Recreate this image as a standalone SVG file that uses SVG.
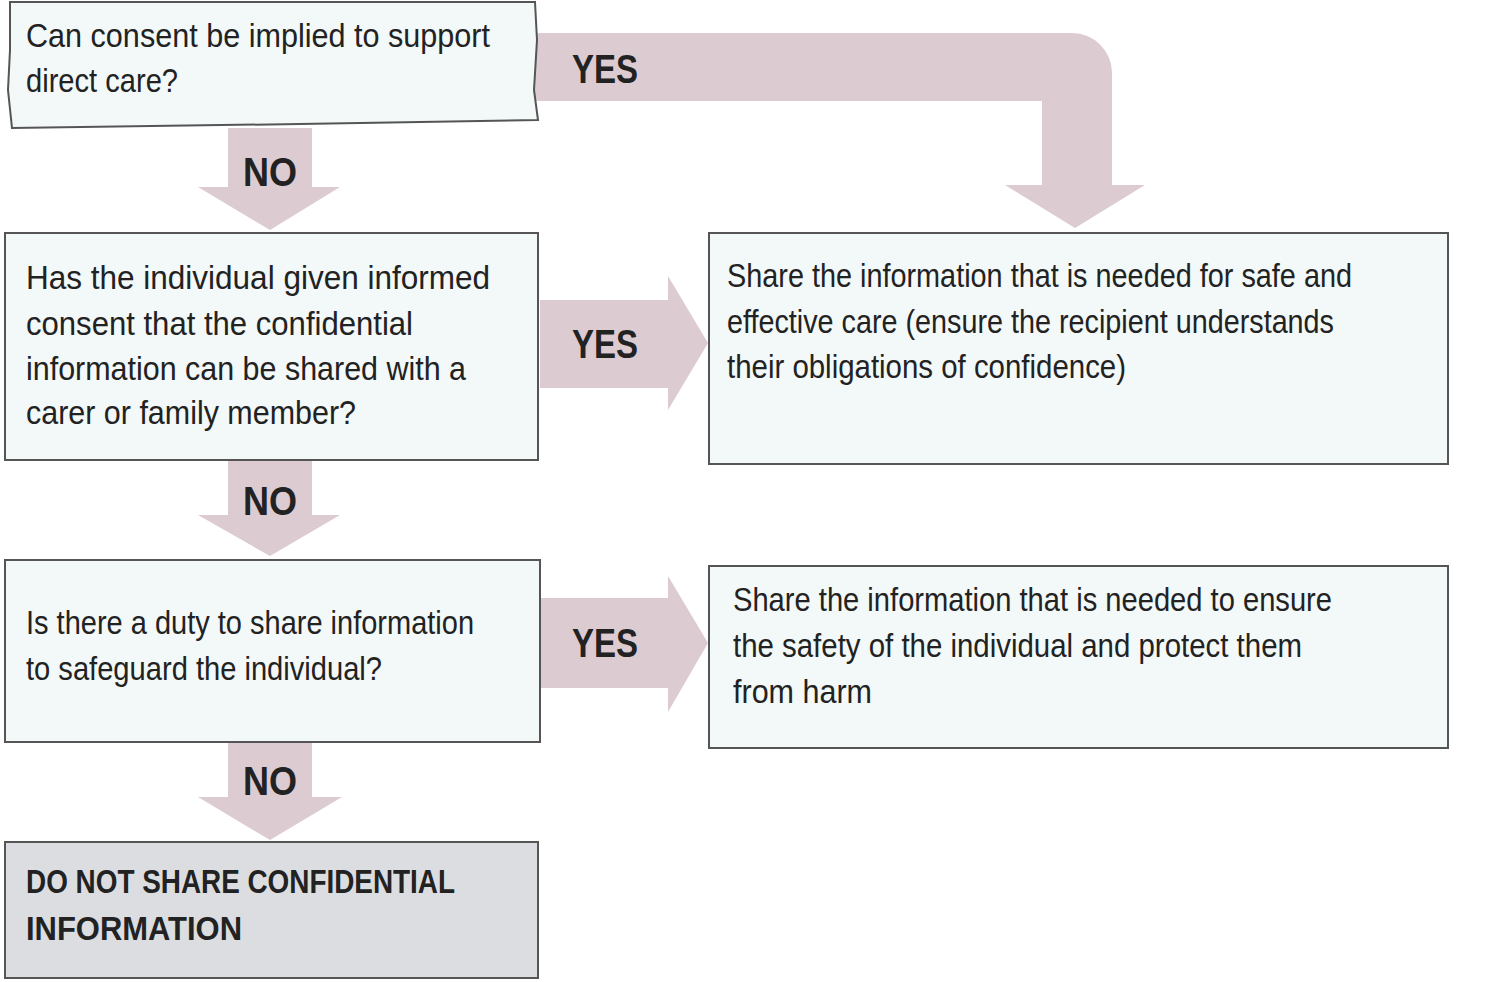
<svg xmlns="http://www.w3.org/2000/svg" width="1500" height="982" viewBox="0 0 1500 982">
<style>
.box{fill:#f3f8f8;stroke:#555;stroke-width:2}
.end{fill:#dcdde1;stroke:#555;stroke-width:2}
.arr{fill:#dccbd1}
text{font-family:"Liberation Sans",Arial,sans-serif;font-size:34px;fill:#222}
.lab{font-weight:bold;font-size:40px}
.b{font-weight:bold}
</style>
<rect width="1500" height="982" fill="#fff"/>
<g id="connectors">
<path class="arr" d="M540,33 H1072 A40,40 0 0 1 1112,73 V185 H1145 L1075,228 L1005,185 H1042 V101 H540 A34,34 0 0 1 540,33 Z"/>
<path class="arr" d="M228,128 H312 V187 H340 L270,230 L198,187 H228 Z"/>
<path class="arr" d="M228,460 H312 V515 H340 L270,556 L198,515 H228 Z"/>
<path class="arr" d="M228,742 H312 V797 H342 L270,840 L198,797 H228 Z"/>
<path class="arr" d="M540,300 H668 V276 L708,343 L668,410 V388 H540 Z"/>
<path class="arr" d="M540,598 H668 V576 L708,643 L668,712 V688 H540 Z"/>
<text class="lab" x="572" y="83" textLength="66" lengthAdjust="spacingAndGlyphs">YES</text>
<text class="lab" x="572" y="358" textLength="66" lengthAdjust="spacingAndGlyphs">YES</text>
<text class="lab" x="572" y="657" textLength="66" lengthAdjust="spacingAndGlyphs">YES</text>
<text class="lab" x="243" y="186" textLength="54" lengthAdjust="spacingAndGlyphs">NO</text>
<text class="lab" x="243" y="515" textLength="54" lengthAdjust="spacingAndGlyphs">NO</text>
<text class="lab" x="243" y="795" textLength="54" lengthAdjust="spacingAndGlyphs">NO</text>
</g>
<g id="q1">
<path class="box" d="M10,2 H535 L537,40 L534,90 L538,120 L300,124 L12,128 L8,90 L10,50 Z"/>
<text x="26" y="47" textLength="464" lengthAdjust="spacingAndGlyphs">Can consent be implied to support</text>
<text x="26" y="92" textLength="152" lengthAdjust="spacingAndGlyphs">direct care?</text>
</g>
<g id="q2">
<rect class="box" x="5" y="233" width="533" height="227"/>
<text x="26" y="289" textLength="464" lengthAdjust="spacingAndGlyphs">Has the individual given informed</text>
<text x="26" y="335" textLength="387" lengthAdjust="spacingAndGlyphs">consent that the confidential</text>
<text x="26" y="380" textLength="440" lengthAdjust="spacingAndGlyphs">information can be shared with a</text>
<text x="26" y="424" textLength="330" lengthAdjust="spacingAndGlyphs">carer or family member?</text>
</g>
<g id="q3">
<rect class="box" x="5" y="560" width="535" height="182"/>
<text x="26" y="634" textLength="448" lengthAdjust="spacingAndGlyphs">Is there a duty to share information</text>
<text x="26" y="680" textLength="356" lengthAdjust="spacingAndGlyphs">to safeguard the individual?</text>
</g>
<g id="end">
<rect class="end" x="5" y="842" width="533" height="136"/>
<text class="b" x="26" y="893" textLength="429" lengthAdjust="spacingAndGlyphs">DO NOT SHARE CONFIDENTIAL</text>
<text class="b" x="26" y="940" textLength="216" lengthAdjust="spacingAndGlyphs">INFORMATION</text>
</g>
<g id="shareA">
<rect class="box" x="709" y="233" width="739" height="231"/>
<text x="727" y="287" textLength="625" lengthAdjust="spacingAndGlyphs">Share the information that is needed for safe and</text>
<text x="727" y="333" textLength="607" lengthAdjust="spacingAndGlyphs">effective care (ensure the recipient understands</text>
<text x="727" y="378" textLength="399" lengthAdjust="spacingAndGlyphs">their obligations of confidence)</text>
</g>
<g id="shareB">
<rect class="box" x="709" y="566" width="739" height="182"/>
<text x="733" y="611" textLength="599" lengthAdjust="spacingAndGlyphs">Share the information that is needed to ensure</text>
<text x="733" y="657" textLength="569" lengthAdjust="spacingAndGlyphs">the safety of the individual and protect them</text>
<text x="733" y="703" textLength="139" lengthAdjust="spacingAndGlyphs">from harm</text>
</g>
</svg>
